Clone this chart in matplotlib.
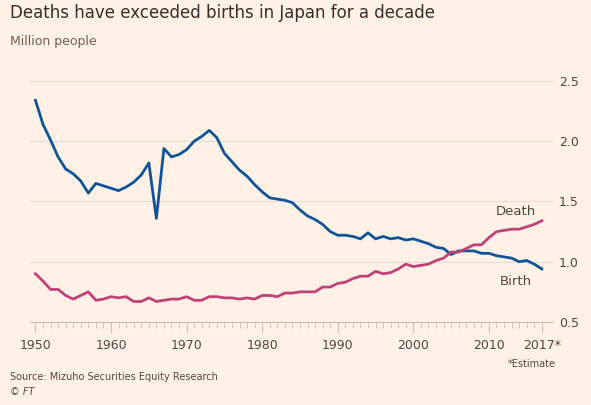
import matplotlib.pyplot as plt
import numpy as np

years = list(range(1950, 2018))
births = [2.34,2.14,2.01,1.87,1.77,1.73,1.67,1.57,1.65,1.63,1.61,1.59,1.62,1.66,1.72,1.82,1.36,1.94,1.87,1.89,
          1.93,2.00,2.04,2.09,2.03,1.90,1.83,1.76,1.71,1.64,1.58,1.53,1.52,1.51,1.49,1.43,1.38,1.35,1.31,1.25,
          1.22,1.22,1.21,1.19,1.24,1.19,1.21,1.19,1.20,1.18,1.19,1.17,1.15,1.12,1.11,1.06,1.09,1.09,1.09,1.07,
          1.07,1.05,1.04,1.03,1.00,1.01,0.98,0.94]
deaths = [0.90,0.84,0.77,0.77,0.72,0.69,0.72,0.75,0.68,0.69,0.71,0.70,0.71,0.67,0.67,0.70,0.67,0.68,0.69,0.69,
          0.71,0.68,0.68,0.71,0.71,0.70,0.70,0.69,0.70,0.69,0.72,0.72,0.71,0.74,0.74,0.75,0.75,0.75,0.79,0.79,
          0.82,0.83,0.86,0.88,0.88,0.92,0.90,0.91,0.94,0.98,0.96,0.97,0.98,1.01,1.03,1.08,1.08,1.11,1.14,1.14,
          1.20,1.25,1.26,1.27,1.27,1.29,1.31,1.34]
xticks = [1950,1960,1970,1980,1990,2000,2010,2017]
xlabels = ['1950','1960','1970','1980','1990','2000','2010','2017*']
yticks = [0.5,1.0,1.5,2.0,2.5]

bg = '#FFF1E5'
fig = plt.figure(figsize=(5.91,4.05), dpi=100, facecolor=bg)
ax = fig.add_axes([0.051, 0.205, 0.885, 0.595], facecolor=bg)
ax.plot(years, births, color='#0F5499', lw=2)
ax.plot(years, deaths, color='#C0427A', lw=2)
ax.set_xlim(1949.3, 2018.5)
ax.set_ylim(0.5, 2.5)
ax.set_yticks(yticks)
ax.set_yticklabels([f'{v:.1f}' for v in yticks])
ax.yaxis.tick_right()
ax.grid(axis='y', color='#e6dbd2', lw=0.8)
for s in ['top','left','right']:
    ax.spines[s].set_visible(False)
ax.spines['bottom'].set_color('#ccc1b7')
ax.set_xticks(xticks)
ax.set_xticklabels(xlabels)
ax.set_xticks(years, minor=True)
ax.tick_params(axis='x', which='major', length=8, color='#ccc1b7', labelsize=9, labelcolor='#4d4845', pad=4)
ax.tick_params(axis='x', which='minor', length=4, color='#ccc1b7')
ax.tick_params(axis='y', length=0, labelsize=9, labelcolor='#4d4845', pad=4)
ax.text(2013.5, 1.39, 'Death', fontsize=9.5, color='#4d4845', ha='center')
ax.text(2013.5, 0.81, 'Birth', fontsize=9.5, color='#4d4845', ha='center')
fig.text(0.017, 0.955, 'Deaths have exceeded births in Japan for a decade', fontsize=12, color='#33302e')
fig.text(0.017, 0.89, 'Million people', fontsize=9, color='#66605c')
fig.text(0.94, 0.095, '*Estimate', fontsize=7, color='#4d4845', ha='right')
fig.text(0.017, 0.062, 'Source: Mizuho Securities Equity Research', fontsize=7, color='#4d4845')
fig.text(0.017, 0.025, '© FT', fontsize=7, color='#4d4845', style='italic')
fig.savefig('out.png', dpi=100, facecolor=bg)
